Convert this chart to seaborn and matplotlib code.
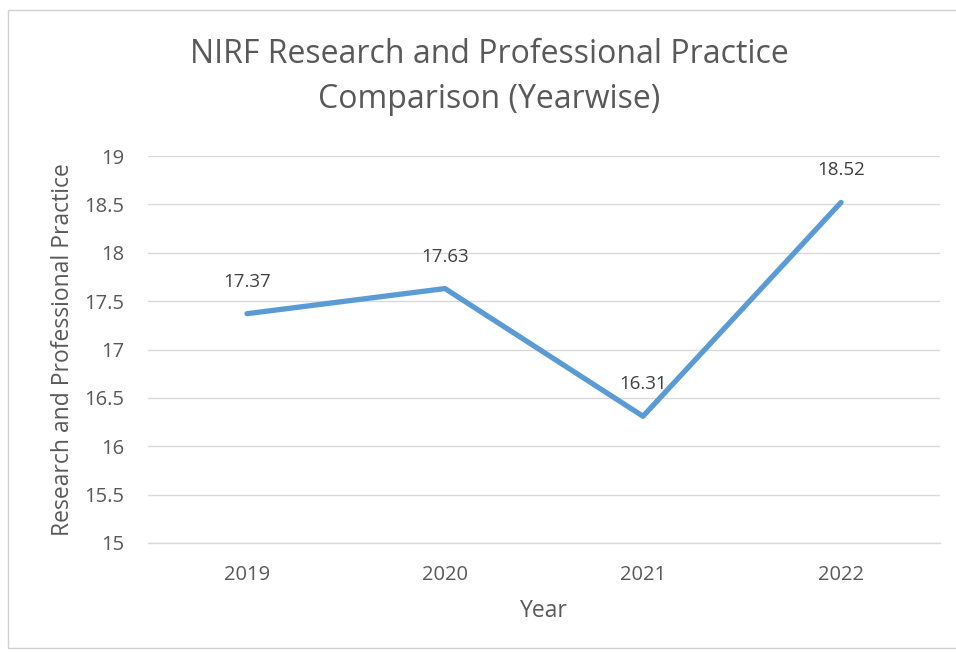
import matplotlib
matplotlib.use("Agg")
import matplotlib.pyplot as plt
import seaborn as sns
import pandas as pd
from matplotlib.patches import Rectangle

years = ["2019", "2020", "2021", "2022"]
scores = [17.37, 17.63, 16.31, 18.52]
yticks = [15, 15.5, 16, 16.5, 17, 17.5, 18, 18.5, 19]
ytick_labels = ["15", "15.5", "16", "16.5", "17", "17.5", "18", "18.5", "19"]

sns.set_style("white")
plt.rcParams["font.family"] = ["Open Sans", "DejaVu Sans"]

TXT = "#595959"
LINE = "#5B9BD5"
GRID = "#D9D9D9"

df = pd.DataFrame({"Year": years, "Score": scores})

fig = plt.figure(figsize=(9.56, 6.52), dpi=100)
ax = fig.add_axes([148 / 956, 1 - 543 / 652, 792 / 956, 387 / 652])

sns.lineplot(data=df, x="Year", y="Score", ax=ax, color=LINE, linewidth=3.8,
             sort=False, solid_capstyle="round")

# value labels above each point
for i, v in enumerate(scores):
    ax.annotate(f"{v:.2f}", (i, v), xytext=(0, 23), textcoords="offset points",
                ha="center", va="center", fontsize=13.5, color="#404040")

ax.set_xlim(-0.5, 3.5)
ax.set_ylim(15, 19)
ax.set_yticks(yticks)
ax.set_yticklabels(ytick_labels)
ax.yaxis.grid(True, color=GRID, linewidth=1)
ax.set_axisbelow(True)
for s in ["top", "right", "left"]:
    ax.spines[s].set_visible(False)
ax.spines["bottom"].set_color(GRID)
ax.spines["bottom"].set_linewidth(1)

ax.set_xticks([0, 1, 2, 3])
ax.set_xticks([-0.5, 0.5, 1.5, 2.5, 3.5], minor=True)
ax.tick_params(axis="x", which="major", length=0, pad=16, labelsize=14.5, labelcolor=TXT)
ax.tick_params(axis="x", which="minor", length=6, color=GRID, width=1, direction="out")
ax.tick_params(axis="y", length=0, pad=17, labelsize=14.5, labelcolor=TXT)

ax.set_xlabel("Year", fontsize=16.5, color=TXT, labelpad=10)
ax.set_ylabel("Research and Professional Practice", fontsize=16.5, color=TXT, labelpad=7)

fig.text(489 / 956, 1 - 77 / 652, "NIRF Research and Professional Practice\nComparison (Yearwise)",
         ha="center", va="center", fontsize=23, color=TXT, linespacing=1.45)

fig.patches.append(Rectangle((8 / 956, 4 / 652), 1, 1 - 14 / 652, transform=fig.transFigure,
                             fill=False, edgecolor="#D0D0D0", linewidth=1))

fig.savefig("out.png", dpi=100)
